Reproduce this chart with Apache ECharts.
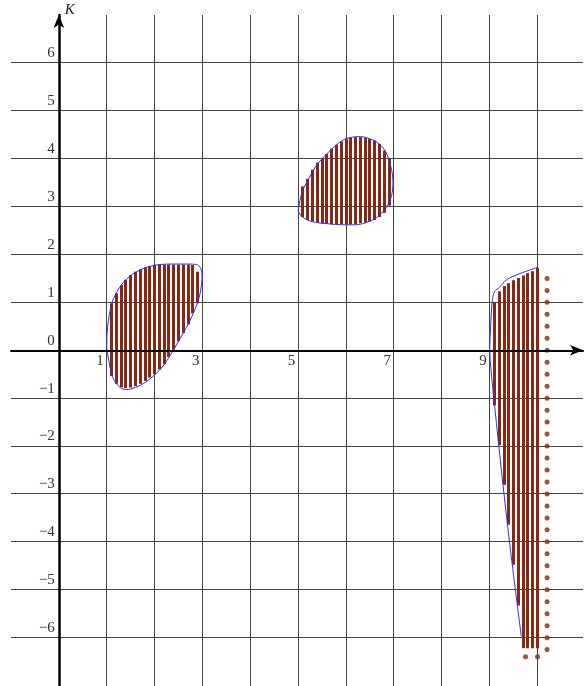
<!DOCTYPE html>
<html style="height: 100%">
  <head>
    <meta charset="utf-8" />
  </head>
  <body style="height: 100%; margin: 0; background: #fff">
    <div id="container" style="width: 585px; height: 686px"></div>

    <script src="https://cdn.jsdelivr.net/npm/echarts@6/dist/echarts.min.js"></script>
    <script type="text/javascript">
      // grid lines and tick labels
      var gridXs = [1, 2, 3, 4, 5, 6, 7, 8, 9, 10];
      var gridYs = [-6, -5, -4, -3, -2, -1, 0, 1, 2, 3, 4, 5, 6];
      var xLabels = [1, 3, 5, 7, 9];
      var yLabels = [-6, -5, -4, -3, -2, -1, 0, 1, 2, 3, 4, 5, 6];

      // region 1 hatching: x, bottom, top
      var hatch1X = [1.1, 1.2, 1.3, 1.4, 1.5, 1.6, 1.7, 1.8, 1.9, 2.0, 2.1, 2.2, 2.3, 2.4, 2.5, 2.6, 2.7, 2.8, 2.9];
      var hatch1Lo = [-0.54, -0.7, -0.77, -0.79, -0.78, -0.75, -0.7, -0.64, -0.57, -0.5, -0.4, -0.29, -0.14, 0.01, 0.19, 0.36, 0.54, 0.77, 0.98];
      var hatch1Hi = [0.98, 1.19, 1.36, 1.47, 1.57, 1.64, 1.69, 1.73, 1.76, 1.78, 1.79, 1.79, 1.79, 1.79, 1.79, 1.79, 1.79, 1.78, 1.64];

      // region 2 hatching
      var hatch2X = [5.1, 5.2, 5.3, 5.4, 5.5, 5.6, 5.7, 5.8, 5.9, 6.0, 6.1, 6.2, 6.3, 6.4, 6.5, 6.6, 6.7, 6.8, 6.9];
      var hatch2Lo = [2.78, 2.72, 2.69, 2.66, 2.65, 2.64, 2.63, 2.63, 2.63, 2.63, 2.63, 2.63, 2.65, 2.66, 2.69, 2.72, 2.78, 2.87, 3.02];
      var hatch2Hi = [3.42, 3.58, 3.77, 3.92, 4.01, 4.1, 4.21, 4.29, 4.36, 4.41, 4.44, 4.45, 4.45, 4.44, 4.41, 4.38, 4.31, 4.17, 4.0];

      // region 3 hatching
      var hatch3X = [9.1, 9.2, 9.3, 9.4, 9.5, 9.6, 9.7, 9.8, 9.9, 10.0];
      var hatch3Lo = [-1.15, -1.98, -2.81, -3.64, -4.48, -5.33, -6.22, -6.22, -6.22, -6.22];
      var hatch3Hi = [1.01, 1.23, 1.34, 1.4, 1.46, 1.51, 1.56, 1.61, 1.65, 1.72];

      // blue boundary curves
      var outline1X = [2.9, 2.97, 2.99, 2.97, 2.93, 2.85, 2.7, 2.5, 2.3, 2.1, 1.9, 1.7, 1.5, 1.4, 1.25, 1.12, 1.05, 1.0, 1.02, 1.1, 1.2, 1.35, 1.5, 1.7, 1.9, 2.1, 2.4, 2.7, 2.9];
      var outline1Y = [1.79, 1.7, 1.5, 1.3, 1.1, 0.87, 0.54, 0.19, -0.15, -0.42, -0.6, -0.73, -0.81, -0.82, -0.75, -0.55, -0.25, 0.1, 0.5, 0.95, 1.2, 1.42, 1.56, 1.68, 1.75, 1.79, 1.8, 1.8, 1.79];
      var outline2X = [5.0, 5.08, 5.22, 5.36, 5.5, 5.71, 5.92, 6.13, 6.3, 6.51, 6.69, 6.83, 6.93, 6.98, 6.95, 6.86, 6.69, 6.48, 6.2, 5.92, 5.64, 5.36, 5.15, 5.03, 5.0];
      var outline2Y = [2.92, 3.3, 3.58, 3.83, 4.0, 4.21, 4.38, 4.45, 4.46, 4.41, 4.31, 4.14, 3.86, 3.51, 3.23, 3.02, 2.81, 2.69, 2.62, 2.62, 2.64, 2.67, 2.74, 2.85, 2.92];
      var outline3X = [10.0, 9.63, 9.35, 9.21, 9.1, 9.05, 9.02, 9.0, 9.03, 9.07, 9.36, 9.66];
      var outline3Y = [1.73, 1.6, 1.47, 1.32, 1.22, 0.98, 0.49, 0.0, -0.42, -0.84, -3.54, -5.97];

      // dotted boundary
      var dotsX = [10.2, 10.2, 10.2, 10.2, 10.2, 10.2, 10.2, 10.2, 10.2, 10.2, 10.2, 10.2, 10.2, 10.2, 10.2, 10.2, 10.2, 10.2, 10.2, 10.2, 10.2, 10.2, 10.2, 10.2, 10.2, 10.2, 10.2, 10.2, 10.2, 10.2, 10.2, 10.2, 9.75, 10.0];
      var dotsY = [1.5, 1.25, 1.0, 0.75, 0.5, 0.25, 0, -0.25, -0.5, -0.75, -1.0, -1.25, -1.5, -1.75, -2.0, -2.25, -2.5, -2.75, -3.0, -3.25, -3.5, -3.75, -4.0, -4.25, -4.5, -4.75, -5.0, -5.25, -5.5, -5.75, -6.0, -6.25, -6.4, -6.4];

      var X_MIN = -1, X_MAX = 10.95, Y_MIN = -7.01, Y_MAX = 7.0;
      var BROWN = "#862812";
      var SERIF = "Liberation Serif";

      function zip(a, b) {
        return a.map(function (v, i) { return [v, b[i]]; });
      }
      function zip3(a, b, c) {
        return a.map(function (v, i) { return [v, b[i], c[i]]; });
      }
      function crisp(v) {
        return Math.round(v - 0.5) + 0.5;
      }

      function renderGrid(params, api) {
        var vx = api.value(0), vy = api.value(1), p1, p2;
        if (api.value(2) === 0) {
          p1 = api.coord([vx, Y_MAX]);
          p2 = api.coord([vx, Y_MIN]);
          p1[0] = p2[0] = crisp(p1[0]);
        } else {
          p1 = api.coord([X_MIN, vy]);
          p2 = api.coord([X_MAX, vy]);
          p1[1] = p2[1] = crisp(p1[1]);
        }
        return {
          type: "line",
          shape: { x1: p1[0], y1: p1[1], x2: p2[0], y2: p2[1] },
          style: { stroke: "#444", lineWidth: 1 },
        };
      }

      // tick labels drawn next to the axes that sit on zero
      function renderLabel(params, api) {
        var isX = api.value(2) === 0;
        var v = isX ? api.value(0) : api.value(1);
        var p = api.coord([isX ? v : 0, isX ? 0 : v]);
        var txt = v < 0 ? "\u2212" + -v : String(v);
        return {
          type: "text",
          x: isX ? p[0] - 3 : p[0] - 4,
          y: isX ? p[1] + 3 : p[1] - 2,
          style: {
            text: txt,
            fill: "#333",
            font: "15px '" + SERIF + "'",
            align: "right",
            verticalAlign: isX ? "top" : "bottom",
          },
        };
      }

      function renderHatch(params, api) {
        var top = api.coord([api.value(0), api.value(2)]);
        var bot = api.coord([api.value(0), api.value(1)]);
        return {
          type: "rect",
          shape: { x: Math.round(top[0] - 1.5), y: top[1], width: 3, height: bot[1] - top[1] },
          style: { fill: BROWN },
        };
      }

      var gridData = gridXs.map(function (x) { return [x, 0, 0]; })
        .concat(gridYs.map(function (y) { return [0, y, 1]; }));
      var labelData = xLabels.map(function (x) { return [x, 0, 0]; })
        .concat(yLabels.map(function (y) { return [0, y, 1]; }));

      function outline(xs, ys) {
        return {
          type: "line",
          data: zip(xs, ys),
          smooth: 0.35,
          showSymbol: false,
          silent: true,
          z: 4,
          lineStyle: { color: "#2b2bff", width: 1 },
        };
      }

      function hatch(xs, lo, hi) {
        return {
          type: "custom",
          data: zip3(xs, lo, hi),
          renderItem: renderHatch,
          silent: true,
          z: 3,
        };
      }

      var dom = document.getElementById("container");
      var myChart = echarts.init(dom);

      var option = {
        animation: false,
        backgroundColor: "#fff",
        grid: {
          left: 11,
          right: 2,
          top: 15,
          bottom: 0,
          containLabel: false,
          outerBoundsMode: "none",
        },
        xAxis: {
          type: "value",
          min: X_MIN,
          max: X_MAX,
          z: 6,
          splitLine: { show: false },
          axisTick: { show: false },
          axisLabel: { show: false },
          axisLine: {
            onZero: true,
            symbol: ["none", "arrow"],
            symbolSize: [8, 13],
            lineStyle: { color: "#000", width: 2 },
          },
        },
        yAxis: {
          type: "value",
          min: Y_MIN,
          max: Y_MAX,
          z: 6,
          name: "K",
          nameLocation: "end",
          nameGap: 5,
          nameTextStyle: {
            fontFamily: SERIF,
            fontStyle: "italic",
            fontSize: 15,
            color: "#222",
            align: "left",
            verticalAlign: "middle",
            padding: [0, 0, 0, 6],
          },
          splitLine: { show: false },
          axisTick: { show: false },
          axisLabel: { show: false },
          axisLine: {
            onZero: true,
            symbol: ["none", "arrow"],
            symbolSize: [8, 13],
            lineStyle: { color: "#000", width: 2.5 },
          },
        },
        series: [
          {
            type: "custom",
            data: gridData,
            renderItem: renderGrid,
            silent: true,
            z: 1,
          },
          {
            type: "custom",
            data: labelData,
            renderItem: renderLabel,
            silent: true,
            z: 7,
          },
          hatch(hatch1X, hatch1Lo, hatch1Hi),
          hatch(hatch2X, hatch2Lo, hatch2Hi),
          hatch(hatch3X, hatch3Lo, hatch3Hi),
          outline(outline1X, outline1Y),
          outline(outline2X, outline2Y),
          outline(outline3X, outline3Y),
          {
            type: "scatter",
            data: zip(dotsX, dotsY),
            symbolSize: 5,
            silent: true,
            z: 5,
            itemStyle: { color: BROWN },
          },
        ],
      };

      myChart.setOption(option);
    </script>
  </body>
</html>
